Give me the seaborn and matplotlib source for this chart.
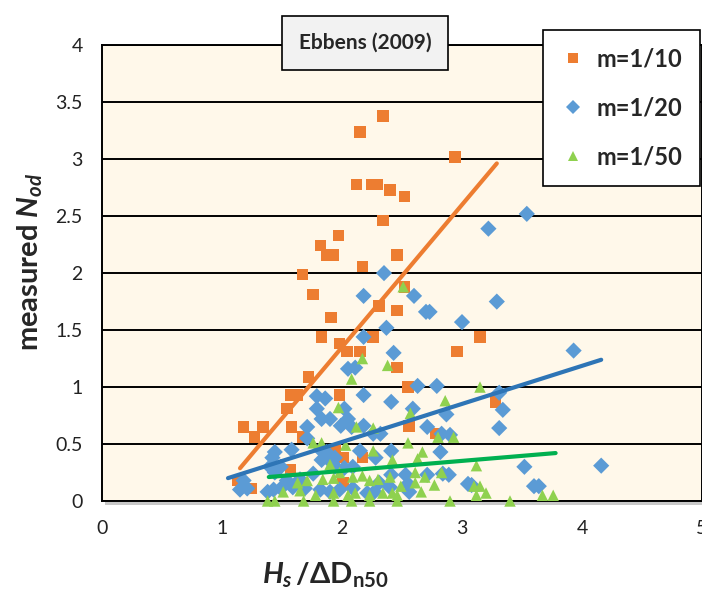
import numpy as np
import pandas as pd
import matplotlib
matplotlib.use("Agg")
import matplotlib.pyplot as plt
import seaborn as sns

# m=1/10
x_10 = [2.34, 2.15, 2.94, 2.12, 2.25, 2.29, 2.40, 2.52, 2.34, 1.97, 1.82, 1.87, 1.93, 2.46,
        2.17, 1.67, 1.76, 2.52, 2.31, 2.46, 1.91, 1.83, 2.26, 1.98, 2.04, 2.15, 2.96, 3.15,
        2.46, 1.72, 1.57, 1.63, 1.98, 2.55, 1.54, 1.18, 1.34, 1.58, 1.27, 1.67, 2.56, 2.78,
        3.28, 1.94, 2.01, 2.17, 1.57, 1.13, 1.24, 2.01]
y_10 = [3.38, 3.24, 3.02, 2.78, 2.78, 2.78, 2.73, 2.67, 2.46, 2.33, 2.24, 2.16, 2.16, 2.16,
        2.06, 1.99, 1.81, 1.88, 1.71, 1.67, 1.61, 1.44, 1.44, 1.38, 1.31, 1.31, 1.31, 1.44,
        1.17, 1.09, 0.93, 0.93, 0.93, 1.00, 0.81, 0.65, 0.65, 0.65, 0.56, 0.56, 0.66, 0.59,
        0.87, 0.45, 0.38, 0.38, 0.27, 0.18, 0.11, 0.16]

# m=1/20
x_20 = [3.54, 3.22, 3.29, 3.00, 3.93, 2.35, 2.18, 2.60, 2.70, 2.73, 2.37, 2.18, 2.43, 2.05,
        2.11, 2.63, 2.79, 2.18, 2.41, 2.59, 2.87, 3.34, 3.31, 3.31, 2.02, 1.79, 1.86, 1.79,
        1.83, 1.90, 2.05, 1.99, 2.08, 2.18, 1.71, 1.71, 2.26, 2.32, 2.71, 2.83, 2.90, 2.15,
        2.41, 2.82, 1.58, 1.44, 1.42, 1.82, 1.87, 1.94, 2.28, 1.92, 1.40, 1.49, 1.44, 1.54,
        1.65, 1.76, 1.83, 1.94, 2.02, 2.09, 2.41, 2.53, 2.71, 2.84, 2.89, 3.52, 4.16, 1.18,
        1.15, 1.21, 1.38, 1.43, 1.49, 1.59, 1.69, 1.82, 1.90, 1.98, 2.09, 2.21, 2.31, 2.40,
        2.55, 2.56, 2.27, 3.05, 3.08, 3.60, 3.64]
y_20 = [2.52, 2.39, 1.75, 1.57, 1.32, 2.00, 1.80, 1.80, 1.66, 1.66, 1.52, 1.44, 1.30, 1.16,
        1.17, 1.01, 1.01, 0.93, 0.87, 0.81, 0.76, 0.80, 0.64, 0.95, 0.81, 0.92, 0.90, 0.81,
        0.72, 0.72, 0.72, 0.66, 0.65, 0.66, 0.65, 0.55, 0.59, 0.59, 0.65, 0.59, 0.58, 0.44,
        0.44, 0.43, 0.45, 0.43, 0.38, 0.45, 0.43, 0.38, 0.38, 0.33, 0.30, 0.30, 0.25, 0.18,
        0.19, 0.24, 0.36, 0.30, 0.29, 0.30, 0.23, 0.23, 0.23, 0.24, 0.23, 0.30, 0.31, 0.18,
        0.10, 0.11, 0.08, 0.10, 0.11, 0.12, 0.11, 0.10, 0.08, 0.10, 0.11, 0.07, 0.16, 0.12,
        0.15, 0.08, 0.08, 0.15, 0.14, 0.13, 0.13]

# m=1/50
x_50 = [2.51, 2.17, 2.38, 2.08, 3.15, 2.86, 2.57, 1.97, 2.12, 2.26, 2.80, 2.93, 1.76, 1.83,
        2.03, 2.55, 2.26, 2.67, 2.42, 2.63, 1.90, 3.12, 1.98, 2.17, 2.40, 2.61, 2.69, 2.83,
        1.84, 1.93, 1.63, 1.71, 2.09, 2.23, 2.30, 2.49, 2.77, 2.61, 3.10, 3.15, 1.51, 1.65,
        1.78, 1.93, 2.05, 2.11, 2.23, 2.34, 2.42, 2.46, 2.66, 3.20, 3.12, 3.67, 3.76, 1.38,
        1.44, 1.68, 1.93, 2.08, 2.23, 2.46, 2.90, 3.40]
y_50 = [1.88, 1.25, 1.19, 1.07, 1.00, 0.88, 0.77, 0.82, 0.65, 0.64, 0.56, 0.56, 0.51, 0.51,
        0.49, 0.51, 0.44, 0.43, 0.36, 0.37, 0.32, 0.31, 0.25, 0.22, 0.21, 0.25, 0.21, 0.25,
        0.19, 0.20, 0.16, 0.18, 0.21, 0.18, 0.19, 0.13, 0.14, 0.16, 0.13, 0.13, 0.08, 0.09,
        0.05, 0.07, 0.05, 0.07, 0.05, 0.07, 0.07, 0.05, 0.08, 0.07, 0.05, 0.05, 0.05, 0.0,
        0.0, 0.0, 0.0, 0.0, 0.0, 0.0, 0.0, 0.0]

series = ["m=1/10", "m=1/20", "m=1/50"]
# linear trend lines (slope, intercept, x start, x end)
trend_slope = [1.25, 0.334, 0.088]
trend_icpt = [-1.15, -0.15, 0.088]
trend_x0 = [1.15, 1.05, 1.39]
trend_x1 = [3.29, 4.16, 3.78]

pts = pd.concat([
    pd.DataFrame({"x": x_10, "y": y_10, "m": series[0]}),
    pd.DataFrame({"x": x_20, "y": y_20, "m": series[1]}),
    pd.DataFrame({"x": x_50, "y": y_50, "m": series[2]}),
])

rows = []
for s, a, b, x0, x1 in zip(series, trend_slope, trend_icpt, trend_x0, trend_x1):
    for xx in (x0, x1):
        rows.append({"x": xx, "y": a * xx + b, "m": s})
trend = pd.DataFrame(rows)

sns.set_style("white")
plt.rcParams['font.family'] = ['Lato', 'DejaVu Sans']
plt.rcParams['mathtext.fontset'] = 'custom'
plt.rcParams['mathtext.rm'] = 'Lato:bold'
plt.rcParams['mathtext.it'] = 'Lato:bold:italic'
plt.rcParams['mathtext.bf'] = 'Lato:bold'

mk_col = {"m=1/10": "#ED7D31", "m=1/20": "#5B9BD5", "m=1/50": "#8FD14F"}
ln_col = {"m=1/10": "#ED7D31", "m=1/20": "#2E75B6", "m=1/50": "#00B050"}
mk = {"m=1/10": "s", "m=1/20": "D", "m=1/50": "^"}

fig = plt.figure(figsize=(7.02, 5.95), dpi=100)
ax = fig.add_axes([0.1453, 0.158, 0.8547, 0.766])
ax.set_facecolor("#FFF8EA")

# soft shadow under the plot frame (drawn behind the axes)
shadow = plt.Rectangle((0.1453 + 0.004, 0.158 - 0.007), 0.8547, 0.766,
                       transform=fig.transFigure, facecolor="#C8C8C8",
                       edgecolor="none", zorder=-5)
fig.patches.append(shadow)

sns.scatterplot(data=pts, x="x", y="y", hue="m", style="m", palette=mk_col, markers=mk,
                s=68, linewidth=0, ax=ax, clip_on=False, zorder=3)
sns.lineplot(data=trend, x="x", y="y", hue="m", palette=ln_col, linewidth=3,
             ax=ax, legend=False, zorder=4, sort=False)

ax.set_xlim(0, 5)
ax.set_ylim(0, 4)
ax.set_xticks(np.arange(0, 6, 1))
ax.set_yticks(np.arange(0, 4.5, 0.5))
ax.set_yticklabels(["0", "0.5", "1", "1.5", "2", "2.5", "3", "3.5", "4"])
ax.tick_params(axis="both", length=0, labelsize=14, pad=14, colors="#222222")
ax.yaxis.grid(True, color="black", linewidth=1.4)
ax.set_axisbelow(True)
for sp in ax.spines.values():
    sp.set_color("black")
    sp.set_linewidth(1.4)
ax.set_xlabel("")
ax.set_ylabel("")

fig.text(0.043, 0.56, r"measured $N_{od}$", rotation=90, ha="center", va="center",
         fontsize=21, fontweight="bold")
fig.text(0.463, 0.034, r"$H_s\,$/$\Delta$D$_{\mathrm{n50}}$", ha="center", va="center",
         fontsize=21, fontweight="bold")

fig.text(0.52, 0.928, "Ebbens (2009)", ha="center", va="center", fontsize=15,
         fontweight="bold",
         bbox=dict(boxstyle="square,pad=0.8", facecolor="#F2F2F2", edgecolor="black",
                   linewidth=1.2))

h, l = ax.get_legend_handles_labels()
leg = ax.legend(h, l, loc="upper right", bbox_to_anchor=(0.997, 0.95),
                bbox_transform=fig.transFigure, frameon=True, fancybox=False,
                edgecolor="black", fontsize=17, labelspacing=1.1, borderpad=0.75,
                borderaxespad=0, handlelength=1.0, handletextpad=0.5, markerscale=0.9,
                framealpha=1)
leg.get_frame().set_linewidth(1.2)
for t in leg.get_texts():
    t.set_fontweight("bold")

fig.savefig("out.png", dpi=100)
